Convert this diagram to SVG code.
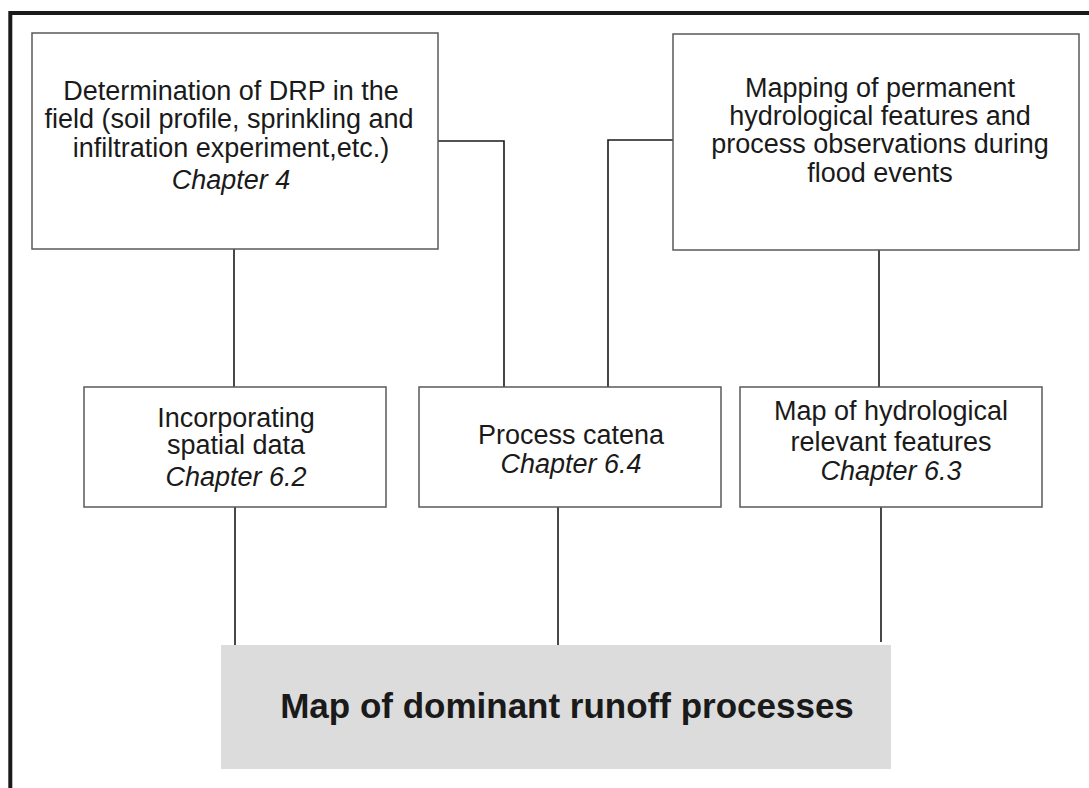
<svg xmlns="http://www.w3.org/2000/svg" width="1089" height="788" viewBox="0 0 1089 788">
<style>
.box{fill:#ffffff;stroke:#5a5a5a;stroke-width:1.5}
.conn{fill:none;stroke:#1a1a1a;stroke-width:1.6}
.t{font-family:"Liberation Sans",Arial,sans-serif;font-size:27px;fill:#1a1a1a;text-anchor:middle}
.i{font-style:italic}
.title{font-family:"Liberation Sans",Arial,sans-serif;font-size:35px;font-weight:bold;fill:#1a1a1a;text-anchor:middle}
</style>
<rect x="0" y="0" width="1089" height="788" fill="#ffffff"/>
<path d="M10.3,788 V13 H1089" fill="none" stroke="#1a1a1a" stroke-width="4"/>
<g id="connectors">
<path class="conn" d="M234,249 V387"/>
<path class="conn" d="M438,141 H504 V387"/>
<path class="conn" d="M673,140 H608 V387"/>
<path class="conn" d="M879,250 V387"/>
<path class="conn" d="M235,507 V645"/>
<path class="conn" d="M558,507 V645"/>
<path class="conn" d="M881,507 V642"/>
</g>
<g id="node-field">
<rect class="box" x="32" y="33" width="406" height="216"/>
<text class="t" x="231" y="100">Determination of DRP in the</text>
<text class="t" x="229" y="128">field (soil profile, sprinkling and</text>
<text class="t" x="231" y="157">infiltration experiment,etc.)</text>
<text class="t i" x="231" y="189">Chapter 4</text>
</g>
<g id="node-mapping">
<rect class="box" x="673" y="34" width="406" height="216"/>
<text class="t" x="880" y="97">Mapping of permanent</text>
<text class="t" x="880" y="125">hydrological features and</text>
<text class="t" x="880" y="153">process observations during</text>
<text class="t" x="880" y="182">flood events</text>
</g>
<g id="node-spatial">
<rect class="box" x="84" y="387" width="302" height="120"/>
<text class="t" x="236" y="427">Incorporating</text>
<text class="t" x="236" y="454">spatial data</text>
<text class="t i" x="236" y="486">Chapter 6.2</text>
</g>
<g id="node-catena">
<rect class="box" x="419" y="387" width="302" height="120"/>
<text class="t" x="571" y="444">Process catena</text>
<text class="t i" x="571" y="473">Chapter 6.4</text>
</g>
<g id="node-features">
<rect class="box" x="740" y="387" width="302" height="120"/>
<text class="t" x="891" y="420">Map of hydrological</text>
<text class="t" x="891" y="451">relevant features</text>
<text class="t i" x="891" y="480">Chapter 6.3</text>
</g>
<g id="node-result">
<rect x="221" y="645" width="670" height="124" fill="#dcdcdc"/>
<text class="title" x="567" y="718">Map of dominant runoff processes</text>
</g>
</svg>
